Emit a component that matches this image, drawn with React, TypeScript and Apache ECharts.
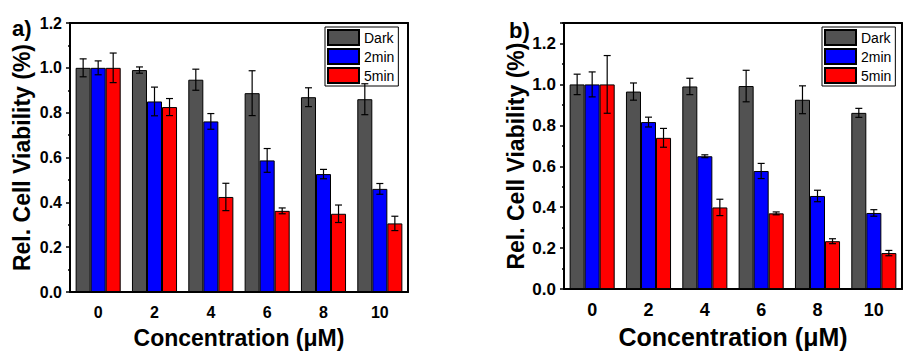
import React, { useEffect, useRef } from "react";
import * as echarts from "echarts";

const categories = ["0", "2", "4", "6", "8", "10"];
const seriesNames = ["Dark", "2min", "5min"];

// Panel a
const aDark = [1.0, 0.99, 0.947, 0.887, 0.869, 0.86];
const aDarkErr = [0.04, 0.014, 0.047, 0.1, 0.042, 0.069];
const a2min = [1.0, 0.85, 0.761, 0.587, 0.526, 0.46];
const a2minErr = [0.031, 0.064, 0.035, 0.053, 0.021, 0.024];
const a5min = [1.0, 0.825, 0.424, 0.362, 0.349, 0.306];
const a5minErr = [0.066, 0.038, 0.061, 0.013, 0.039, 0.032];

// Panel b
const bDark = [1.0, 0.965, 0.99, 0.992, 0.925, 0.861];
const bDarkErr = [0.05, 0.042, 0.04, 0.077, 0.068, 0.022];
const b2min = [1.0, 0.816, 0.649, 0.577, 0.455, 0.372];
const b2minErr = [0.061, 0.024, 0.007, 0.037, 0.028, 0.016];
const b5min = [1.0, 0.739, 0.399, 0.37, 0.234, 0.176];
const b5minErr = [0.141, 0.046, 0.04, 0.007, 0.012, 0.013];

const colors = ["#525252", "#0000ff", "#ff0000"];
const FONT = "Liberation Sans";

export default function App() {
  const ref = useRef<HTMLDivElement>(null);
  useEffect(() => {
    if (!ref.current) return;
    const chart = echarts.init(ref.current, null, { renderer: "svg" });

    const panels = [
      { vals: [aDark, a2min, a5min], errs: [aDarkErr, a2minErr, a5minErr], left: 70, max: 1.2, xtick: 16, ytick: 16, xname: 23, yname: 23, legendLeft: 325 },
      { vals: [bDark, b2min, b5min], errs: [bDarkErr, b2minErr, b5minErr], left: 564, max: 1.3, xtick: 18, ytick: 17, xname: 25, yname: 23, legendLeft: 822 },
    ];

    const grids: any[] = [];
    const xAxes: any[] = [];
    const yAxes: any[] = [];
    const series: any[] = [];
    const legends: any[] = [];
    const lineStyle = { color: "#000", width: 2 };

    panels.forEach((p, pi) => {
      grids.push({ left: p.left, top: 23, width: 338, height: 271 });
      // main x axis
      xAxes.push({
        type: "category",
        gridIndex: pi,
        data: categories,
        position: "bottom",
        name: "Concentration (μM)",
        nameLocation: "middle",
        nameGap: 34,
        nameTextStyle: { fontFamily: FONT, fontWeight: "bold", fontSize: p.xname, color: "#000" },
        axisLine: { lineStyle },
        axisTick: { alignWithLabel: true, length: 5, lineStyle: { color: "#000", width: 1.5 } },
        axisLabel: { margin: 12, fontFamily: FONT, fontWeight: "bold", fontSize: p.xtick, color: "#000" },
        splitLine: { show: false },
      });
      // boundary ticks
      xAxes.push({
        type: "category",
        gridIndex: pi,
        data: categories,
        position: "bottom",
        axisLine: { show: false },
        axisTick: { alignWithLabel: false, length: 3, lineStyle: { color: "#000", width: 1.5 } },
        axisLabel: { show: false },
        splitLine: { show: false },
      });
      // top frame
      xAxes.push({
        type: "category",
        gridIndex: pi,
        data: categories,
        position: "top",
        axisLine: { show: true, onZero: false, lineStyle },
        axisTick: { show: false },
        axisLabel: { show: false },
        splitLine: { show: false },
      });
      yAxes.push({
        type: "value",
        gridIndex: pi,
        min: 0,
        max: p.max,
        interval: 0.2,
        name: "Rel. Cell Viability (%)",
        nameLocation: "middle",
        nameGap: 37,
        nameTextStyle: { fontFamily: FONT, fontWeight: "bold", fontSize: p.yname, color: "#000" },
        axisLine: { show: true, lineStyle },
        axisTick: { show: true, length: 4, lineStyle: { color: "#000", width: 1.5 } },
        minorTick: { show: true, splitNumber: 2, length: 2, lineStyle: { color: "#000", width: 1.5 } },
        axisLabel: {
          margin: 8,
          showMaxLabel: pi === 0,
          fontFamily: FONT,
          fontWeight: "bold",
          fontSize: p.ytick,
          color: "#000",
          formatter: (v: number) => v.toFixed(1),
        },
        splitLine: { show: false },
      });
      // right frame
      yAxes.push({
        type: "value",
        gridIndex: pi,
        min: 0,
        max: p.max,
        interval: 0.2,
        position: "right",
        axisLine: { show: true, onZero: false, lineStyle },
        axisTick: { show: false },
        axisLabel: { show: false },
        splitLine: { show: false },
      });

      p.vals.forEach((vals, k) => {
        series.push({
          type: "bar",
          name: seriesNames[k],
          xAxisIndex: pi * 3,
          yAxisIndex: pi * 2,
          data: vals,
          barGap: "0%",
          barCategoryGap: "20%",
          itemStyle: { color: colors[k], borderColor: "#000", borderWidth: 1 },
        });
      });
      p.vals.forEach((vals, k) => {
        series.push({
          type: "custom",
          name: "err" + pi + k,
          xAxisIndex: pi * 3,
          yAxisIndex: pi * 2,
          z: 10,
          data: vals.map((v, i) => [i, v - p.errs[k][i], v + p.errs[k][i], k]),
          encode: { x: 0, y: [1, 2] },
          renderItem: (params: any, api: any) => {
            const x = api.value(0);
            const lo = api.coord([x, api.value(1)]);
            const hi = api.coord([x, api.value(2)]);
            const band = api.size([1, 0])[0];
            const bw = (band * 0.8) / 3;
            const cx = hi[0] + (api.value(3) - 1) * bw;
            const cap = 3.5;
            const st = { stroke: "#000", lineWidth: 1.2 };
            return {
              type: "group",
              children: [
                { type: "line", shape: { x1: cx, y1: hi[1], x2: cx, y2: lo[1] }, style: st },
                { type: "line", shape: { x1: cx - cap, y1: hi[1], x2: cx + cap, y2: hi[1] }, style: st },
                { type: "line", shape: { x1: cx - cap, y1: lo[1], x2: cx + cap, y2: lo[1] }, style: st },
              ],
            };
          },
        });
      });

      legends.push({
        data: seriesNames,
        orient: "vertical",
        left: p.legendLeft,
        top: 27,
        icon: "rect",
        itemWidth: 31,
        itemHeight: 15,
        itemGap: 2,
        padding: 2,
        borderColor: "#000",
        borderWidth: 1,
        backgroundColor: "#fff",
        selectedMode: false,
        textStyle: { fontFamily: FONT, fontSize: 14, color: "#000", lineHeight: 15, padding: [0, 2, 0, 0] },
      });
    });

    chart.setOption({
      animation: false,
      grid: grids,
      xAxis: xAxes,
      yAxis: yAxes,
      series,
      legend: legends,
      graphic: [
        { type: "text", left: 12, top: 17, style: { text: "a)", font: `bold 22px "${FONT}"`, fill: "#000" } },
        { type: "text", left: 509, top: 19, style: { text: "b)", font: `bold 22px "${FONT}"`, fill: "#000" } },
      ],
    });
    return () => chart.dispose();
  }, []);
  return <div ref={ref} style={{ position: "absolute", left: 0, top: 0, width: 904, height: 354 }} />;
}
